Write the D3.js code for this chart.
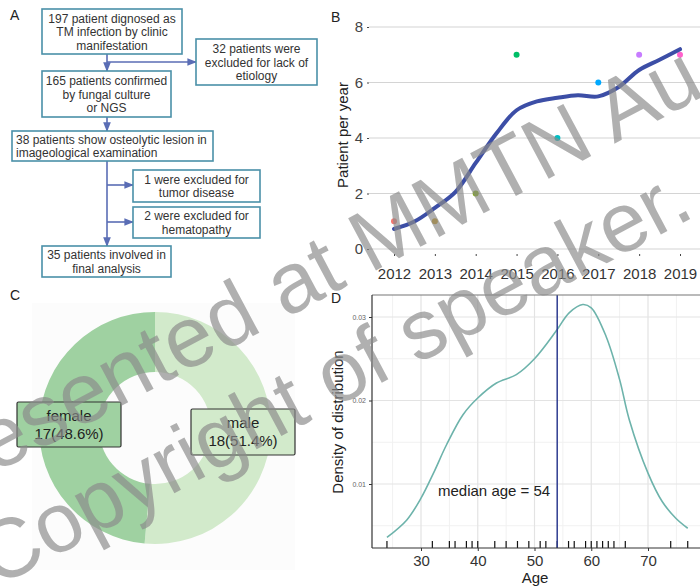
<!DOCTYPE html>
<html>
<head>
<meta charset="utf-8">
<script src="https://cdn.jsdelivr.net/npm/d3@7"></script>
<style>
  body { margin: 0; background: #fff; }
  svg { display: block; font-family: "Liberation Sans", Arial, sans-serif; }
</style>
</head>
<body>
<div id="chart"></div>
<script>
// ---- panel A: flow chart text
const flowMain = [
  ["197 patient dignosed as", "TM infection by clinic", "manifestation"],
  ["165 patients confirmed", "by fungal culture", "or NGS"],
  ["38 patients show osteolytic lesion in", "imageological examination"],
  ["35 patients involved in", "final analysis"]
];
const flowExcluded = [
  ["32 patients were", "excluded for lack of", "etiology"],
  ["1 were excluded for", "tumor disease"],
  ["2 were excluded for", "hematopathy"]
];

// ---- panel B: patients per year
const years = [2012, 2013, 2014, 2015, 2016, 2017, 2018, 2019];
const patientsPerYear = [1, 1, 2, 7, 4, 6, 7, 7];
const yearColors = ["#F8766D", "#CD9600", "#7CAE00", "#00BE67", "#00BFC4", "#00A9FF", "#C77CFF", "#FF61CC"];
const smoothYears = [2012, 2012.5, 2013, 2013.5, 2014, 2014.5, 2015, 2015.5, 2016, 2016.5, 2017, 2017.5, 2018, 2018.5, 2019];
const smoothValues = [0.72, 0.99, 1.48, 2.05, 3.1, 4.15, 5.0, 5.32, 5.45, 5.54, 5.5, 5.84, 6.45, 6.82, 7.2];
const yTicksB = [0, 2, 4, 6, 8];

// ---- panel C: sex
const sexLabels = ["male", "female"];
const sexCounts = [18, 17];
const sexPercent = ["51.4%", "48.6%"];

// ---- panel D: age density
const ages = [24, 32, 35, 36, 38, 39, 40, 43, 45, 47, 49, 51, 52, 54, 56, 57, 59, 60, 61, 62, 63, 64, 66, 74, 77];
const densityAge = [24, 27.5, 30, 32.2, 34.5, 37.4, 40, 43.3, 46.8, 50, 54, 56.1, 58.5, 60, 62.6, 65, 66.7, 70, 72.5, 74.9, 77];
const densityValue = [0.0036, 0.0057, 0.0083, 0.0113, 0.0147, 0.0183, 0.0203, 0.0221, 0.0231, 0.025, 0.0285, 0.0305, 0.0315, 0.0311, 0.0277, 0.0225, 0.0177, 0.0113, 0.0079, 0.0059, 0.0047];
const medianAge = 54;
const xTicksD = [30, 40, 50, 60, 70];
const yTicksD = [0.01, 0.02, 0.03];

const width = 700, height = 586;

const svg = d3.select("#chart").append("svg")
  .attr("width", width)
  .attr("height", height)
  .attr("viewBox", [0, 0, width, height]);

svg.append("rect").attr("width", width).attr("height", height).attr("fill", "#fff");

function panelLetter(t, x, y) {
  svg.append("text").attr("x", x).attr("y", y).text(t)
    .attr("font-size", 14).attr("fill", "#222");
}

// ================= A =================
const gA = svg.append("g");
const boxStroke = "#4a90a8";
const arrowColor = "#5a6db5";

svg.append("defs").append("marker")
  .attr("id", "arr")
  .attr("viewBox", "0 0 10 10")
  .attr("refX", 9).attr("refY", 5)
  .attr("markerWidth", 6).attr("markerHeight", 6)
  .attr("orient", "auto")
  .append("path").attr("d", "M0,1L10,5L0,9Z").attr("fill", arrowColor);

// main boxes [x, y, w, h, align]
const mainBoxes = [
  [42, 9, 140, 45, "middle"],
  [42, 71, 129, 46, "middle"],
  [12, 131, 201, 30, "start"],
  [42, 246, 129, 31, "middle"]
];
const sideBoxes = [
  [196, 39, 121, 46],
  [133, 170, 127, 32],
  [133, 207, 127, 31]
];

function drawBox(b, lines, align) {
  gA.append("rect")
    .attr("x", b[0]).attr("y", b[1]).attr("width", b[2]).attr("height", b[3])
    .attr("fill", "#fff").attr("stroke", boxStroke).attr("stroke-width", 1.6);
  const lh = 13.5;
  const y0 = b[1] + b[3] / 2 - (lines.length - 1) * lh / 2 + 4.5;
  const tx = align === "start" ? b[0] + 4 : b[0] + b[2] / 2;
  lines.forEach((l, i) => {
    gA.append("text")
      .attr("x", tx).attr("y", y0 + i * lh)
      .attr("text-anchor", align)
      .attr("font-size", 12).attr("fill", "#333")
      .text(l);
  });
}

// arrows
const ax = 107;
function arrowLine(x1, y1, x2, y2) {
  gA.append("line").attr("x1", x1).attr("y1", y1).attr("x2", x2).attr("y2", y2)
    .attr("stroke", arrowColor).attr("stroke-width", 1.6)
    .attr("marker-end", "url(#arr)");
}
arrowLine(ax, 54, ax, 71);
arrowLine(ax, 62, 196, 62);
arrowLine(ax, 117, ax, 131);
arrowLine(ax, 161, ax, 246);
arrowLine(ax, 185, 133, 185);
arrowLine(ax, 222, 133, 222);

mainBoxes.forEach((b, i) => drawBox(b, flowMain[i], b[4]));
sideBoxes.forEach((b, i) => drawBox(b, flowExcluded[i], "middle"));

panelLetter("A", 10, 20);

// ================= B =================
const xB = d3.scaleLinear().domain([2012, 2019]).range([394, 680]);
const yB = d3.scaleLinear().domain([0, 8]).range([249, 27]);
const gB = svg.append("g");

gB.selectAll(".gridB").data(yTicksB).enter().append("line")
  .attr("x1", 369).attr("x2", width)
  .attr("y1", d => yB(d)).attr("y2", d => yB(d))
  .attr("stroke", "#d4d4d4").attr("stroke-width", 1.2);

const axisLeftB = gB.append("g").attr("transform", "translate(369,0)")
  .call(d3.axisLeft(yB).tickValues(yTicksB).tickSize(2).tickPadding(4));
axisLeftB.select(".domain").remove();
axisLeftB.selectAll("text").attr("font-size", 15).attr("fill", "#444").attr("font-family", "Liberation Sans, Arial");
axisLeftB.selectAll("line").attr("stroke", "#444");

const axisBottomB = gB.append("g").attr("transform", "translate(0,254)")
  .call(d3.axisBottom(xB).tickValues(years).tickFormat(d3.format("d")).tickSize(2).tickPadding(12));
axisBottomB.select(".domain").remove();
axisBottomB.selectAll("text").attr("font-size", 15).attr("fill", "#333").attr("font-family", "Liberation Sans, Arial");
axisBottomB.selectAll("line").attr("stroke", "#444");

gB.selectAll(".pt").data(years).enter().append("circle")
  .attr("cx", d => xB(d))
  .attr("cy", (d, i) => yB(patientsPerYear[i]))
  .attr("r", 3)
  .attr("fill", (d, i) => yearColors[i]);

const smoothLine = d3.line()
  .x(d => xB(d[0])).y(d => yB(d[1]))
  .curve(d3.curveCatmullRom);
gB.append("path")
  .datum(smoothYears.map((yv, i) => [yv, smoothValues[i]]))
  .attr("d", smoothLine)
  .attr("fill", "none").attr("stroke", "#3c4ea6").attr("stroke-width", 4)
  .attr("stroke-linecap", "round");

gB.append("text")
  .attr("transform", "translate(348,135) rotate(-90)")
  .attr("text-anchor", "middle")
  .attr("font-size", 15).attr("fill", "#222")
  .text("Patient per year");

panelLetter("B", 331, 22);

// ================= C =================
const gC = svg.append("g").attr("transform", "translate(155,428)");
gC.append("rect").attr("x", -123).attr("y", -125).attr("width", 263).attr("height", 267).attr("fill", "#fcfcfc");
const sexColors = ["#d2eacb", "#9fd1a1"];
const pie = d3.pie().sort(null).value(d => d)(sexCounts);
const arc = d3.arc().innerRadius(56).outerRadius(116);
gC.selectAll(".slice").data(pie).enter().append("path")
  .attr("d", arc).attr("fill", (d, i) => sexColors[i]);

const labelBoxes = [[36, -19, 104, 46], [-138, -26, 104, 45]];
sexLabels.forEach((s, i) => {
  const b = labelBoxes[i];
  gC.append("rect").attr("x", b[0]).attr("y", b[1]).attr("width", b[2]).attr("height", b[3])
    .attr("fill", sexColors[i]).attr("stroke", "#333").attr("stroke-width", 1.2).attr("rx", 1.5);
  gC.append("text").attr("x", b[0] + b[2] / 2).attr("y", b[1] + 19)
    .attr("text-anchor", "middle").attr("font-size", 15).attr("fill", "#222").text(s);
  gC.append("text").attr("x", b[0] + b[2] / 2).attr("y", b[1] + 37)
    .attr("text-anchor", "middle").attr("font-size", 15).attr("fill", "#222")
    .text(sexCounts[i] + "(" + sexPercent[i] + ")");
});

panelLetter("C", 10, 300);

// ================= D =================
const xD = d3.scaleLinear().domain([30, 70]).range([421, 648]);
const yD = d3.scaleLinear().domain([0.01, 0.03]).range([484, 317]);
const pLeft = 372, pRight = 702, pTop = 295, pBottom = 548;
const gD = svg.append("g");

const minorX = [25, 35, 45, 55, 65, 75];
const minorY = [0.005, 0.015, 0.025];
gD.selectAll(".mx").data(minorX).enter().append("line")
  .attr("x1", d => xD(d)).attr("x2", d => xD(d)).attr("y1", pTop).attr("y2", pBottom)
  .attr("stroke", "#f1f1f1").attr("stroke-width", 1);
gD.selectAll(".my").data(minorY).enter().append("line")
  .attr("x1", pLeft).attr("x2", pRight).attr("y1", d => yD(d)).attr("y2", d => yD(d))
  .attr("stroke", "#f1f1f1").attr("stroke-width", 1);
gD.selectAll(".gx").data(xTicksD).enter().append("line")
  .attr("x1", d => xD(d)).attr("x2", d => xD(d)).attr("y1", pTop).attr("y2", pBottom)
  .attr("stroke", "#e3e3e3").attr("stroke-width", 1.2);
gD.selectAll(".gy").data(yTicksD).enter().append("line")
  .attr("x1", pLeft).attr("x2", pRight).attr("y1", d => yD(d)).attr("y2", d => yD(d))
  .attr("stroke", "#e3e3e3").attr("stroke-width", 1.2);

// density curve
gD.append("path")
  .datum(densityAge.map((a, i) => [a, densityValue[i]]))
  .attr("d", d3.line().x(d => xD(d[0])).y(d => yD(d[1])).curve(d3.curveCatmullRom))
  .attr("fill", "none").attr("stroke", "#6db3ab").attr("stroke-width", 1.6);

// rug
gD.selectAll(".rug").data(ages).enter().append("line")
  .attr("x1", d => xD(d)).attr("x2", d => xD(d))
  .attr("y1", pBottom).attr("y2", pBottom - 7)
  .attr("stroke", "#111").attr("stroke-width", 1.2);

// median line
gD.append("line")
  .attr("x1", xD(medianAge)).attr("x2", xD(medianAge)).attr("y1", pTop).attr("y2", pBottom)
  .attr("stroke", "#2e3c90").attr("stroke-width", 1.5);

gD.append("text")
  .attr("x", xD(medianAge) - 7).attr("y", 496)
  .attr("text-anchor", "end").attr("font-size", 15).attr("fill", "#222")
  .text("median age = " + medianAge);

// panel border
gD.append("line").attr("x1", pLeft).attr("x2", pRight).attr("y1", pTop).attr("y2", pTop)
  .attr("stroke", "#777").attr("stroke-width", 1.2);

const axisLeftD = gD.append("g").attr("transform", `translate(${pLeft},0)`)
  .call(d3.axisLeft(yD).tickValues(yTicksD).tickFormat(d3.format(".2f")).tickSize(3).tickPadding(3));
axisLeftD.select(".domain").attr("d", `M0,${pTop}V${pBottom}`).attr("stroke", "#333").attr("stroke-width", 1.2);
axisLeftD.selectAll("text").attr("font-size", 7).attr("fill", "#666").attr("font-family", "Liberation Sans, Arial");
axisLeftD.selectAll(".tick line").attr("stroke", "#333");

const axisBottomD = gD.append("g").attr("transform", `translate(0,${pBottom})`)
  .call(d3.axisBottom(xD).tickValues(xTicksD).tickSize(3).tickPadding(4));
axisBottomD.select(".domain").attr("d", `M${pLeft},0H${pRight}`).attr("stroke", "#333").attr("stroke-width", 1.2);
axisBottomD.selectAll("text").attr("font-size", 15).attr("fill", "#333").attr("font-family", "Liberation Sans, Arial");
axisBottomD.selectAll(".tick line").attr("stroke", "#333");

gD.append("text").attr("x", 535).attr("y", 583)
  .attr("text-anchor", "middle").attr("font-size", 15).attr("fill", "#222").text("Age");

gD.append("text")
  .attr("transform", "translate(343,422) rotate(-90)")
  .attr("text-anchor", "middle").attr("font-size", 15).attr("fill", "#222")
  .text("Density of distribution");

panelLetter("D", 331, 303);

// ---- watermark
const wm = svg.append("g").attr("fill", "#8a8a8a").attr("fill-opacity", 0.68)
  .attr("font-family", "Liberation Sans, Arial");
wm.append("text").attr("font-size", 86).attr("transform", "translate(-82,514) rotate(-28)").text("Presented at MMTN Au");
wm.append("text").attr("font-size", 84).attr("transform", "translate(-4,588) rotate(-28)").text("Copyright of speaker.");
</script>
</body>
</html>
